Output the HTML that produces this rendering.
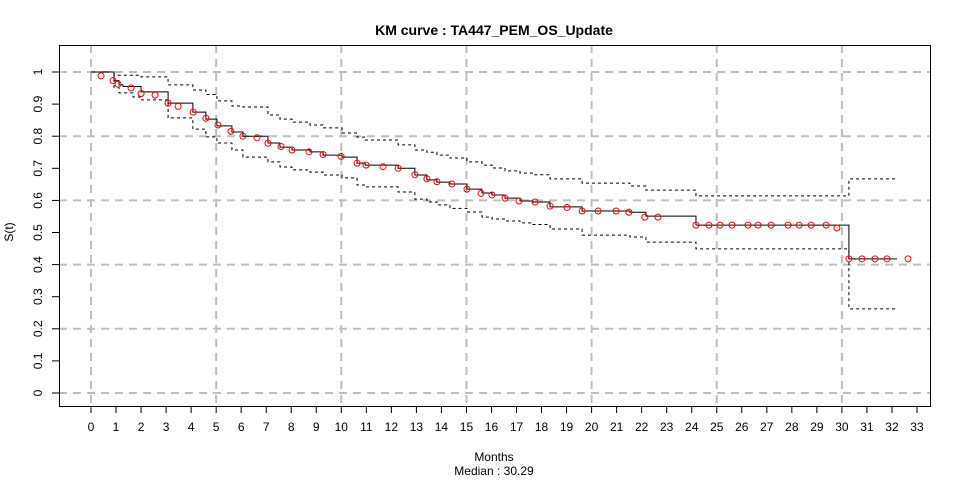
<!DOCTYPE html>
<html><head><meta charset="utf-8"><style>
html,body{margin:0;padding:0;background:#fff;}
svg{display:block;font-family:"Liberation Sans",Arial,sans-serif;}
</style></head><body>
<svg id="chart" width="960" height="480" viewBox="0 0 960 480" xmlns="http://www.w3.org/2000/svg">
<rect width="960" height="480" fill="#fff"/>
<text x="494" y="35" text-anchor="middle" font-size="14" font-weight="bold">KM curve : TA447_PEM_OS_Update</text>
<g id="grid"></g>
<g id="series"></g>
<g id="axes"></g>
<rect x="59.5" y="45.5" width="871" height="361" fill="none" stroke="#000" stroke-width="1"/>
<text x="494" y="461" text-anchor="middle" font-size="12">Months</text>
<text x="494" y="475" text-anchor="middle" font-size="12">Median : 30.29</text>
<text transform="translate(13,232) rotate(-90)" text-anchor="middle" font-size="12">S(t)</text>
</svg>
<script>
const stepTimes = [0,0.92,1.12,1.28,1.68,2.0,3.08,4.07,4.59,5.03,5.63,6.07,7.07,7.55,8.03,8.75,9.27,10.03,10.63,10.95,12.27,12.94,13.42,13.82,14.34,15.02,15.62,16.02,16.54,17.14,17.66,18.34,19.62,21.53,22.17,24.17,30.28];
const survival = [1,.973,.96,.955,.955,.938,.903,.875,.853,.832,.813,.80,.779,.766,.757,.751,.741,.735,.716,.71,.70,.679,.664,.657,.651,.635,.623,.617,.607,.598,.595,.58,.567,.563,.551,.523,.418];
const upperCI = [1,.99,.99,.99,.99,.985,.96,.944,.93,.91,.894,.891,.866,.853,.844,.835,.826,.81,.797,.788,.773,.757,.75,.741,.732,.72,.71,.701,.692,.685,.68,.667,.654,.645,.632,.614,.667];
const lowerCI = [1,.953,.935,.935,.922,.913,.857,.822,.798,.779,.757,.735,.72,.704,.695,.688,.679,.67,.648,.642,.626,.604,.595,.586,.575,.564,.548,.542,.536,.53,.525,.511,.492,.486,.47,.449,.262];
const endTime = 32.2;
const censorTimes = [0.40,0.88,1.08,1.60,2.0,2.56,3.08,3.48,4.08,4.59,5.07,5.59,6.07,6.63,7.07,7.59,8.03,8.71,9.27,9.99,10.63,10.99,11.67,12.27,12.94,13.42,13.82,14.42,15.02,15.58,16.02,16.54,17.10,17.74,18.34,19.02,19.62,20.26,20.98,21.49,22.13,22.65,24.17,24.69,25.13,25.61,26.25,26.65,27.17,27.85,28.29,28.77,29.37,29.80,30.28,30.80,31.32,31.80,32.64];
const censorValues = [.988,.973,.962,.95,.933,.928,.903,.893,.875,.856,.835,.815,.80,.795,.778,.768,.757,.751,.743,.737,.716,.71,.705,.70,.68,.667,.658,.651,.635,.622,.617,.607,.598,.595,.582,.578,.567,.567,.567,.563,.548,.548,.523,.523,.523,.523,.523,.523,.523,.523,.523,.523,.523,.514,.418,.418,.418,.418,.418];
const xTicks = [0,1,2,3,4,5,6,7,8,9,10,11,12,13,14,15,16,17,18,19,20,21,22,23,24,25,26,27,28,29,30,31,32,33];
const yTicks = [0,0.1,0.2,0.3,0.4,0.5,0.6,0.7,0.8,0.9,1];
const xGrid = [0,5,10,15,20,25,30];
const yGrid = [0,0.2,0.4,0.6,0.8,1];

const NS = "http://www.w3.org/2000/svg";
function xs(t){return 91 + t*25.03;}
function ys(s){return 393 - s*321;}
function mk(tag, attrs, parent){const e=document.createElementNS(NS,tag);for(const k in attrs)e.setAttribute(k,attrs[k]);parent.appendChild(e);return e;}
const grid=document.getElementById('grid'), series=document.getElementById('series'), axes=document.getElementById('axes');

xGrid.forEach(v=>{const l=mk('line',{x1:xs(v),x2:xs(v),y1:45,y2:406,stroke:'#bebebe','stroke-width':2,'stroke-dasharray':'8,6'},grid);

});
yGrid.forEach(v=>{const l=mk('line',{x1:59,x2:930,y1:ys(v),y2:ys(v),stroke:'#bebebe','stroke-width':2,'stroke-dasharray':'8,6'},grid);

});

function stepPath(vals){let d='M'+xs(stepTimes[0])+','+ys(vals[0]);
for(let i=1;i<stepTimes.length;i++){d+=' H'+xs(stepTimes[i])+' V'+ys(vals[i]);}
d+=' H'+xs(endTime);return d;}
const pu=mk('path',{d:stepPath(upperCI),fill:'none',stroke:'#000','stroke-width':1,'stroke-dasharray':'3,3'},series);


const pl=mk('path',{d:stepPath(lowerCI),fill:'none',stroke:'#000','stroke-width':1,'stroke-dasharray':'3,3'},series);


const ps=mk('path',{d:stepPath(survival),fill:'none',stroke:'#000','stroke-width':1},series);


censorTimes.forEach((t,i)=>{const c=mk('circle',{cx:xs(t),cy:ys(censorValues[i]),r:3,fill:'none',stroke:'#ff0000','stroke-width':1},series);

});

xTicks.forEach(v=>{const l=mk('line',{x1:xs(v),x2:xs(v),y1:406,y2:413,stroke:'#000'},axes);


const t=mk('text',{x:xs(v),y:431,'text-anchor':'middle','font-size':12},axes);t.textContent=v;

});
yTicks.forEach(v=>{const l=mk('line',{x1:52,x2:59,y1:ys(v),y2:ys(v),stroke:'#000'},axes);


const t=mk('text',{transform:'translate(42,'+ys(v)+') rotate(-90)','text-anchor':'middle','font-size':12},axes);t.textContent=v;

});
</script>
</body></html>
